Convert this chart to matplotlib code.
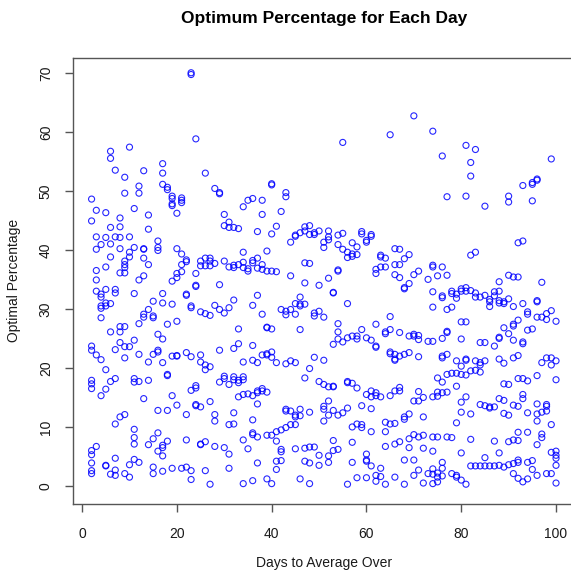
import matplotlib
matplotlib.use("Agg")
import matplotlib.pyplot as plt

# optimal percentage values, one inner list per day
pct_d02_10 = [
    [48.6, 44.9, 23.7, 23.0, 17.9, 17.3, 16.5, 6.0, 5.3, 3.9, 2.6, 2.1],
    [46.7, 42.2, 40.1, 36.5, 34.9, 33.0, 22.2, 6.7],
    [40.9, 32.5, 32.0, 30.5, 30.1, 28.5, 21.4, 15.3],
    [46.3, 42.1, 37.1, 33.3, 31.0, 30.5, 19.7, 16.4, 3.5, 3.4],
    [56.7, 55.5, 43.8, 41.0, 38.8, 30.9, 26.1, 17.7, 2.0],
    [53.5, 42.2, 33.3, 32.7, 23.1, 18.2, 10.5, 4.7, 2.7, 1.8],
    [45.4, 43.9, 42.1, 40.2, 36.1, 27.0, 26.1, 24.3, 11.7],
    [52.3, 49.6, 38.1, 37.5, 37.0, 36.1, 27.0, 23.6, 21.7, 12.1, 2.1],
    [57.4, 42.2, 39.6, 38.8, 23.6, 3.6, 1.5],
]
pct_d11_20 = [
    [47.0, 40.4, 32.6, 24.7, 18.2, 17.6, 9.6, 8.2, 7.1, 4.5],
    [50.8, 49.6, 34.9, 27.5, 22.3, 17.7, 4.0],
    [53.4, 40.2, 40.1, 38.6, 35.6, 29.1, 28.6, 14.8],
    [45.9, 43.5, 37.5, 29.9, 21.0, 17.9, 7.0],
    [31.3, 28.8, 28.5, 22.3, 8.0, 3.2, 2.1],
    [41.5, 40.4, 39.9, 25.7, 23.0, 22.7, 12.8, 9.0, 5.9],
    [54.6, 53.0, 51.1, 32.6, 31.0, 24.9, 20.9, 6.9, 6.5, 5.1, 2.5],
    [50.6, 50.2, 27.4, 18.9, 18.7, 12.8, 7.6],
    [49.1, 48.7, 47.8, 47.5, 34.7, 30.8, 22.0, 15.3, 3.0],
    [46.2, 40.2, 36.0, 35.3, 27.9, 22.1, 22.0, 13.7],
]
pct_d21_30 = [
    [48.8, 48.4, 48.0, 39.3, 37.5, 36.3, 3.0],
    [38.3, 38.0, 32.5, 32.3, 22.6, 12.1, 7.8, 3.2],
    [70.0, 69.7, 30.5, 30.2, 21.9, 16.2, 2.6, 1.1],
    [58.8, 36.0, 34.0, 33.8, 17.0, 16.6, 13.8, 13.6],
    [38.1, 37.3, 29.5, 22.2, 21.0, 13.4, 7.1, 7.0],
    [53.0, 38.6, 37.3, 29.2, 20.5, 19.7, 7.5, 2.6],
    [38.6, 38.1, 37.3, 28.9, 20.2, 14.3, 0.3],
    [50.4, 37.7, 30.6, 12.1, 11.0, 6.7],
    [49.7, 49.5, 34.1, 29.9, 23.0, 17.6],
    [46.0, 44.1, 38.1, 29.3, 18.6, 18.2, 6.5],
]
pct_d31_40 = [
    [44.7, 43.8, 37.1, 30.2, 17.2, 10.4, 5.4, 3.0],
    [43.8, 37.4, 37.0, 31.5, 23.3, 18.5, 18.0, 12.4, 10.5],
    [43.6, 37.5, 26.6, 24.1, 17.9, 17.5, 15.1],
    [47.3, 39.6, 37.9, 37.0, 21.0, 18.5, 18.0, 15.5, 7.8, 0.4],
    [48.4, 36.8, 36.4, 15.6, 6.3],
    [48.7, 38.2, 37.8, 30.6, 23.8, 21.3, 15.3, 11.2, 9.0, 8.7, 0.9],
    [43.1, 38.6, 36.9, 32.3, 20.9, 16.1, 15.8, 13.9, 8.3, 3.9],
    [48.4, 46.0, 37.5, 36.7, 29.1, 22.2, 16.5, 16.1],
    [39.8, 36.4, 26.9, 26.8, 22.4, 22.2, 15.9, 8.6, 1.2],
    [51.2, 51.0, 42.7, 36.4, 26.6, 22.7, 21.8, 8.6, 0.4],
]
pct_d41_50 = [
    [44.0, 36.3, 20.9, 9.2, 7.6, 4.2, 2.8],
    [46.5, 29.9, 9.5, 6.2, 5.8, 4.3],
    [49.7, 49.0, 29.6, 29.0, 20.7, 13.0, 12.7, 9.9],
    [41.3, 35.6, 29.9, 21.2, 12.7, 10.4],
    [42.5, 42.3, 30.9, 29.1, 20.9, 12.0, 11.7, 10.4, 6.3],
    [42.9, 32.0, 30.8, 30.5, 26.5, 13.0, 11.9, 1.2],
    [43.9, 43.2, 37.8, 34.4, 30.8, 18.3, 6.4, 4.2],
    [44.1, 42.6, 37.7, 19.9, 12.5, 6.6, 3.9, 0.4],
    [42.9, 42.6, 29.3, 28.8, 21.8, 6.6],
    [43.2, 34.0, 29.6, 17.7, 5.2, 3.5],
]
pct_d51_60 = [
    [41.3, 40.4, 28.6, 21.3, 17.2, 13.5, 13.0, 11.0],
    [43.2, 42.2, 41.7, 35.2, 16.8, 14.4, 12.0, 5.1, 4.0],
    [32.8, 32.7, 24.0, 16.9, 16.8, 12.8, 7.7, 6.0],
    [42.5, 40.9, 36.6, 36.4, 27.5, 26.1, 24.9, 12.0, 6.2],
    [58.2, 42.8, 40.1, 24.4, 12.4],
    [39.6, 38.7, 30.9, 25.1, 17.7, 17.5, 13.2, 0.3],
    [41.2, 39.3, 38.9, 25.4, 17.4, 10.0, 7.4, 4.0],
    [40.5, 39.2, 25.4, 24.9, 16.6, 10.5, 1.4],
    [43.1, 42.7, 26.5, 13.6, 10.4, 9.9],
    [41.6, 41.3, 25.1, 15.5, 5.4, 4.4, 4.2, 1.4],
]
pct_d61_70 = [
    [42.6, 42.3, 24.7, 16.1, 15.1, 13.1, 9.2, 3.4],
    [36.7, 36.0, 27.4, 23.7, 23.5, 15.8, 15.3, 1.8, 0.8],
    [39.1, 38.8, 37.1, 15.1, 3.0, 1.6],
    [38.6, 37.1, 26.1, 25.8, 10.8, 9.2, 6.7, 0.3],
    [59.5, 28.7, 26.5, 22.7, 22.4, 15.3, 10.5],
    [40.2, 37.5, 35.8, 22.3, 21.5, 21.3, 16.1, 10.6, 7.1, 1.5],
    [40.1, 37.5, 35.3, 26.0, 22.0, 16.7, 16.1, 7.5],
    [38.5, 33.6, 33.4, 22.3, 11.7, 11.3, 4.4, 0.3],
    [39.2, 34.3, 25.4, 22.6, 12.2, 8.0, 6.5],
    [62.7, 35.8, 25.7, 25.4, 14.4, 8.7, 4.4, 1.8],
]
pct_d71_80 = [
    [36.4, 25.5, 24.8, 21.9, 16.0, 14.4, 8.3, 2.7],
    [15.0, 11.7, 8.6, 6.4, 0.5],
    [35.0, 24.5, 2.1],
    [60.1, 37.4, 37.1, 32.9, 30.3, 24.5, 15.1, 8.3, 5.9, 2.9, 2.0, 0.4],
    [35.6, 18.3, 15.9, 15.2, 8.3, 2.2, 1.5, 0.7],
    [55.9, 37.1, 32.2, 31.9, 25.0, 22.0, 21.7, 17.6, 15.8, 4.0, 3.0, 1.7],
    [49.0, 35.7, 29.9, 26.2, 26.0, 22.3, 18.9, 15.9, 8.3],
    [33.0, 32.6, 30.3, 19.1, 8.2, 2.1],
    [32.5, 31.8, 21.2, 19.1, 16.9, 10.7, 1.8, 1.5],
    [33.4, 33.0, 27.8, 24.9, 20.3, 18.9, 14.2, 12.5, 5.6, 1.0],
]
pct_d81_90 = [
    [57.7, 49.1, 33.6, 33.0, 27.8, 21.5, 21.3, 18.8, 15.1, 0.3],
    [54.8, 52.5, 39.1, 33.1, 19.5, 12.2, 7.9, 3.4],
    [57.0, 39.6, 32.7, 32.0, 21.2, 19.6, 3.4],
    [32.0, 24.3, 20.9, 20.5, 19.3, 13.8, 3.4],
    [47.4, 32.3, 24.3, 21.2, 13.6, 4.8, 3.4],
    [31.6, 31.2, 30.4, 13.4, 13.2, 3.4],
    [32.9, 32.2, 23.7, 13.4, 7.6, 3.4],
    [34.6, 33.0, 31.4, 31.0, 25.2, 25.0, 21.5, 14.8, 5.6, 3.5],
    [31.2, 30.9, 26.8, 20.8, 17.3, 14.5, 12.3, 3.2],
    [49.1, 48.1, 35.7, 31.7, 25.8, 17.2, 12.0, 7.5, 3.6],
]
pct_d91_100 = [
    [35.4, 30.4, 27.4, 27.1, 24.7, 21.7, 13.7, 7.8, 3.8, 2.1],
    [41.2, 35.4, 28.1, 22.1, 18.2, 13.5, 9.1, 7.7, 4.4, 4.0, 1.3],
    [50.9, 41.5, 30.9, 24.4, 24.1, 18.2, 15.5, 14.8, 0.7],
    [29.5, 29.1, 26.4, 17.8, 12.4, 9.1, 4.0, 1.2],
    [51.4, 51.1, 48.3, 26.6, 4.3, 2.8],
    [52.0, 51.8, 31.4, 31.2, 28.6, 18.7, 13.9, 12.2, 11.0, 7.0, 1.8],
    [34.5, 28.6, 20.9, 12.5, 8.8, 8.2],
    [29.2, 28.2, 21.7, 13.8, 13.5, 12.7, 2.1],
    [55.4, 29.7, 21.7, 20.5, 10.4, 5.7, 2.1],
    [27.9, 21.2, 18.0, 5.9, 5.2, 4.7, 3.5, 0.5],
]

first_day = 2
blocks = [pct_d02_10, pct_d11_20, pct_d21_30, pct_d31_40, pct_d41_50,
          pct_d51_60, pct_d61_70, pct_d71_80, pct_d81_90, pct_d91_100]

days, pcts = [], []
d = first_day
for block in blocks:
    for vals in block:
        days += [d] * len(vals)
        pcts += vals
        d += 1

plt.rcParams["font.family"] = ["Liberation Sans", "DejaVu Sans"]
W = 571
fig = plt.figure(figsize=(5.71, 5.71), dpi=100)
ax = fig.add_axes([73 / W, (W - 503.7) / W, (574.6 - 73) / W, (503.7 - 58) / W])

ax.scatter(days, pcts, s=19, facecolors="none", edgecolors="#0000ff",
           linewidths=0.8, alpha=0.85)

ax.set_xlim(-1.92, 103.92)
ax.set_ylim(-3.0, 72.5)
ax.set_xticks([0, 20, 40, 60, 80, 100])
ax.set_yticks(range(0, 71, 10))

axis_col = "#555555"
txt_col = "#1a1a1a"
for side in ["left", "bottom", "top", "right"]:
    ax.spines[side].set_color(axis_col)
    ax.spines[side].set_linewidth(1.0)
ax.tick_params(direction="out", length=5.5, width=1.0, color=axis_col,
               labelsize=10, labelcolor=txt_col)
ax.tick_params(axis="x", pad=11)
ax.tick_params(axis="y", pad=9)
for lab in ax.get_yticklabels():
    lab.set_rotation(90)
    lab.set_va("center")

ax.set_xlabel("Days to Average Over", fontsize=10, color=txt_col, va="center")
ax.xaxis.set_label_coords(0.5, (503.7 - 563) / 445.7)
ax.set_ylabel("Optimal Percentage", fontsize=10, color=txt_col, va="center")
ax.yaxis.set_label_coords((14 - 73) / 501.6, 0.5)

fig.text((73 + 574.6) / 2 / W, 1 - 18 / W, "Optimum Percentage for Each Day",
         ha="center", va="center", fontsize=12.5, fontweight="bold", color="black")

fig.savefig("out.png", dpi=100)
